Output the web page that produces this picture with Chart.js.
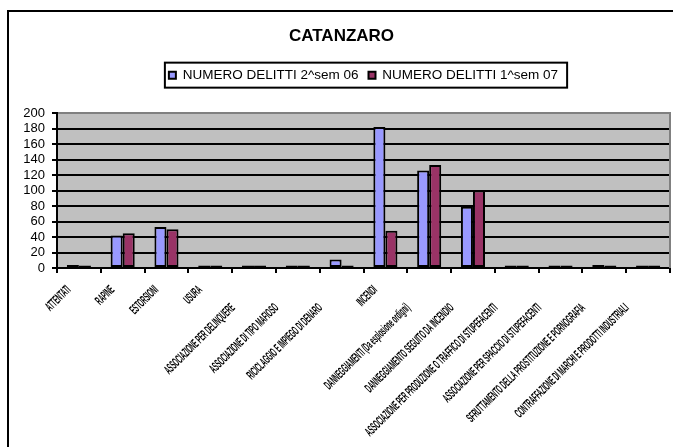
<!DOCTYPE html>
<html><head><meta charset="utf-8">
<script src="https://cdn.jsdelivr.net/npm/chart.js@4/dist/chart.umd.min.js"></script>
<style>html,body{margin:0;padding:0;overflow:hidden;background:#fff;width:673px;height:447px}canvas{display:block}</style>
</head><body>
<canvas id="c" width="673" height="447"></canvas>
<script>
const chartTitle = 'CATANZARO';
const categories = [
  'ATTENTATI',
  'RAPINE',
  'ESTORSIONI',
  'USURA',
  'ASSOCIAZIONE PER DELINQUERE',
  'ASSOCIAZIONE DI TIPO MAFIOSO',
  'RICICLAGGIO E IMPIEGO DI DENARO',
  'INCENDI',
  'DANNEGGIAMENTI (Da esplosione ordigni)',
  'DANNEGGIAMENTO SEGUITO DA INCENDIO',
  'ASSOCIAZIONE PER PRODUZIONE O TRAFFICO DI STUPEFACENTI',
  'ASSOCIAZIONE PER SPACCIO DI STUPEFACENTI',
  'SFRUTTAMENTO DELLA PROSTITUZIONE E PORNOGRAFIA',
  'CONTRAFFAZIONE DI MARCHI E PRODOTTI INDUSTRIALI'
];
const seriesNames = ['NUMERO DELITTI 2^sem 06', 'NUMERO DELITTI 1^sem 07'];
const delitti2sem06 = [4, 42, 53, 1, 1, 1, 11, 182, 126, 79, 0, 1, 4, 3];
const delitti1sem07 = [3, 45, 50, 1, 3, 1, 1, 48, 133, 100, 0, 0, 3, 2];
const yMin = 0, yMax = 200, yStep = 20;

const FONT = '"Liberation Sans", Arial, sans-serif';
Chart.defaults.color = '#000';
Chart.defaults.font.family = FONT;

const decor = {
  id: 'decor',
  beforeDraw(chart) {
    const ctx = chart.ctx, a = chart.chartArea;
    ctx.save();
    ctx.fillStyle = '#fff';
    ctx.fillRect(0, 0, chart.width, chart.height);
    ctx.strokeStyle = '#000';
    ctx.lineWidth = 2;
    ctx.beginPath();
    ctx.moveTo(8, chart.height + 10);
    ctx.lineTo(8, 11);
    ctx.lineTo(chart.width + 10, 11);
    ctx.stroke();
    ctx.fillStyle = '#C0C0C0';
    ctx.fillRect(a.left, a.top, a.right - a.left, a.bottom - a.top);
    ctx.restore();
  },
  afterDraw(chart) {
    const ctx = chart.ctx, a = chart.chartArea, xs = chart.scales.x;
    ctx.save();
    // right plot border
    ctx.strokeStyle = '#808080';
    ctx.lineWidth = 2;
    ctx.beginPath();
    ctx.moveTo(a.right, a.top - 1);
    ctx.lineTo(a.right, a.bottom);
    ctx.stroke();
    // legend frame
    const hb = chart.legend && chart.legend.legendHitBoxes;
    if (hb && hb.length) {
      const first = hb[0], last = hb[hb.length - 1];
      const l = first.left - 4, r = last.left + last.width + 9;
      const t = first.top + first.height / 2 - 12.5;
      ctx.strokeStyle = '#000';
      ctx.lineWidth = 2;
      ctx.strokeRect(l, t, r - l, 25);
    }
    // rotated, compressed category labels (long labels sit lower, as in the original)
    ctx.fillStyle = '#000';
    ctx.font = 'bold 13px ' + FONT;
    ctx.textAlign = 'right';
    ctx.textBaseline = 'middle';
    categories.forEach((lab, i) => {
      const x = xs.getPixelForValue(i);
      const long = lab.length > 20;
      ctx.save();
      ctx.translate(x - (long ? 21 : 10), a.bottom + (long ? 38 : 20));
      ctx.rotate(-Math.PI / 4);
      ctx.scale(0.43, 1);
      ctx.fillText(lab, 0, 0);
      ctx.restore();
    });
    ctx.restore();
  }
};

new Chart(document.getElementById('c'), {
  type: 'bar',
  data: {
    labels: categories,
    datasets: [
      { label: seriesNames[0], data: delitti2sem06, backgroundColor: '#9999FF', borderColor: '#000', borderWidth: 2, borderSkipped: false, minBarLength: 2.5 },
      { label: seriesNames[1], data: delitti1sem07, backgroundColor: '#993366', borderColor: '#000', borderWidth: 2, borderSkipped: false, minBarLength: 2.5 }
    ]
  },
  options: {
    responsive: false,
    animation: false,
    devicePixelRatio: 1,
    layout: { padding: { left: 13, right: 3, top: 0, bottom: 0 } },
    datasets: { bar: { categoryPercentage: 0.55, barPercentage: 1 } },
    plugins: {
      title: {
        display: true, text: chartTitle,
        font: { size: 17, weight: 'bold', family: FONT },
        padding: { top: 26, bottom: 12 }, color: '#000'
      },
      legend: {
        display: true, position: 'top', fullSize: false,
        labels: { font: { size: 13.5, family: FONT }, boxWidth: 7, boxHeight: 7, padding: 10, color: '#000' }
      },
      subtitle: {
        display: true, text: '', weight: 500, position: 'top',
        font: { size: 1 }, padding: { top: 0, bottom: 20 }
      },
      tooltip: { enabled: false }
    },
    scales: {
      x: {
        offset: true,
        grid: { display: true, offset: true, drawOnChartArea: false, drawTicks: true, tickLength: 5, color: '#000', lineWidth: 2 },
        border: { display: true, color: '#000', width: 2, z: 1 },
        ticks: { display: false },
        afterFit(scale) { scale.height = 179; }
      },
      y: {
        min: yMin, max: yMax,
        ticks: { stepSize: yStep, autoSkip: false, font: { size: 13, family: FONT }, color: '#000', padding: 7 },
        grid: {
          color: (c) => (c.tick && c.tick.value === yMax) ? '#808080' : '#000',
          lineWidth: 2, drawTicks: true, tickLength: 5, tickColor: '#000'
        },
        border: { display: true, color: '#000', width: 2 },
        afterFit(scale) { scale.width = 44; }
      }
    }
  },
  plugins: [decor]
});
</script>
</body></html>
